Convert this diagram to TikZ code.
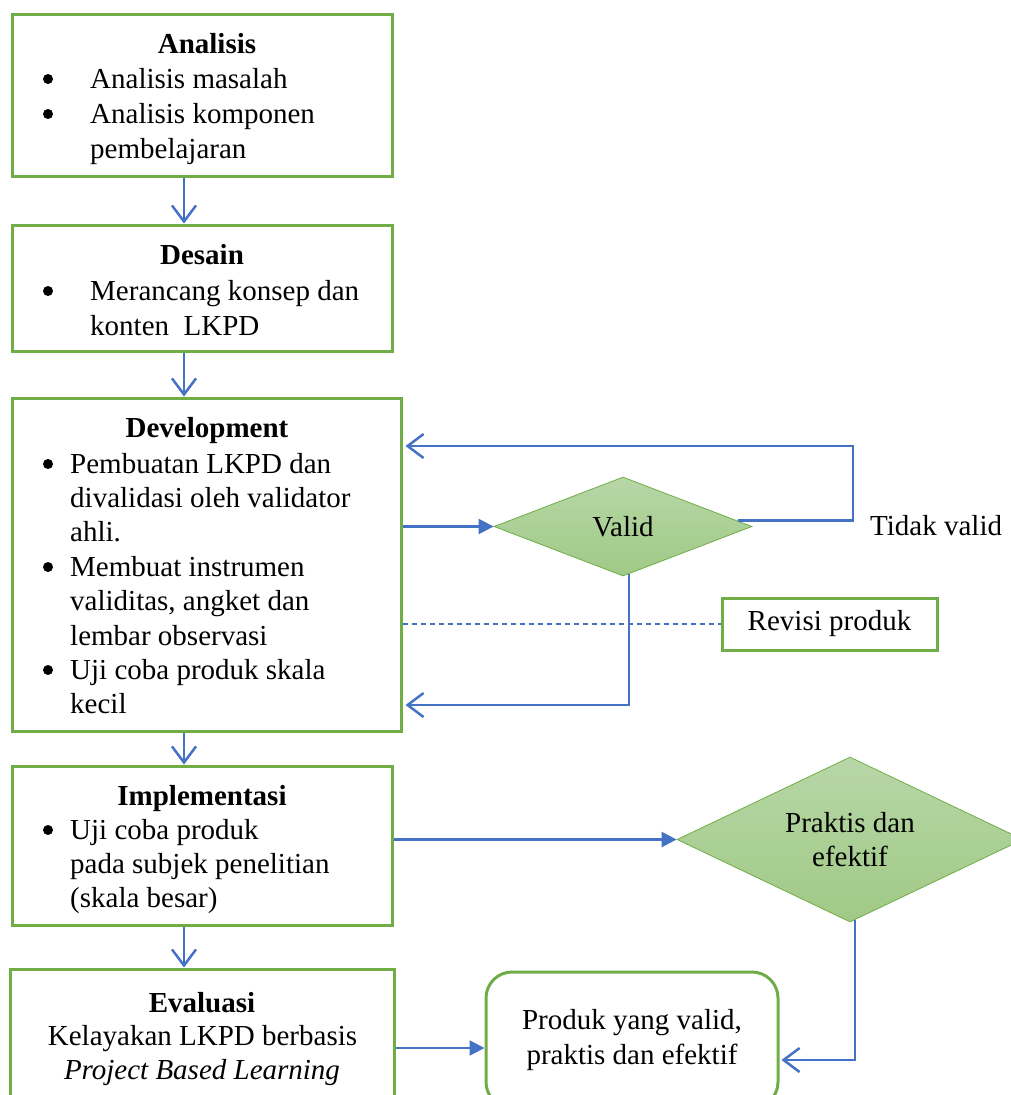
\documentclass[tikz,border=0pt]{standalone}
\usepackage{fontspec}
\setmainfont{Liberation Serif}
\usetikzlibrary{shapes.geometric,arrows.meta,calc}
\definecolor{bgreen}{RGB}{112,173,71}
\definecolor{ablue}{RGB}{68,114,196}
\definecolor{dtop}{RGB}{183,215,167}
\definecolor{dbot}{RGB}{160,201,134}
\begin{document}
\begin{tikzpicture}[x=1pt,y=-1pt,
  every node/.style={font=\fontsize{29}{34.5}\selectfont},
  box/.style={draw=bgreen, line width=3pt, rectangle, inner sep=0pt},
  dia/.style={diamond, aspect=2.1, draw=bgreen, line width=0.8pt, top color=dtop, bottom color=dbot, inner sep=0pt},
  txt/.style={inner sep=0pt, anchor=base west},
  ctxt/.style={inner sep=0pt, anchor=base},
  bul/.style={circle, fill=black, inner sep=0pt, minimum size=10pt},
  conn/.style={draw=ablue, line width=2.5pt},
  barb/.style={conn, -{Straight Barb[length=16pt,width=24pt]}},
  tri/.style={conn, -{Triangle[length=15pt,width=15pt]}}
]
\useasboundingbox (0,0) rectangle (1011,1095);
\clip (0,0) rectangle (1011,1095);

% boxes
\node[box, minimum width=380pt, minimum height=162pt] (ana) at (202,95) {};
\node[box, minimum width=380pt, minimum height=126pt] (des) at (202,288) {};
\node[box, minimum width=389pt, minimum height=333pt] (dev) at (206.5,564.5) {};
\node[box, minimum width=380pt, minimum height=159pt] (imp) at (202,845.5) {};
\node[box, minimum width=384pt, minimum height=140pt] (eva) at (202,1039) {};
\node[box, minimum width=215pt, minimum height=52pt] (rev) at (829.5,624) {Revisi produk};
\node[box, rounded corners=26pt, minimum width=292pt, minimum height=136pt, align=center] (pro) at (632,1040) {Produk yang valid,\\praktis dan efektif};

% diamonds
\node[dia, minimum width=258pt, minimum height=99pt] (val) at (623,526.5) {Valid};
\node[dia, minimum width=346pt, minimum height=165pt, align=center] (pra) at (850,839.5) {Praktis dan\\efektif};
\node[txt] (tv) at (870,535) {Tidak valid};

% Analisis
\node[ctxt] (t1) at (207,53) {\textbf{Analisis}};
\node[bul] (b11) at (48,79) {};
\node[txt] (l11) at (90,88) {Analisis masalah};
\node[bul] (b12) at (48,114) {};
\node[txt] (l12) at (90,123) {Analisis komponen};
\node[txt] (l13) at (90,158) {pembelajaran};

% Desain
\node[ctxt] (t2) at (202,264) {\textbf{Desain}};
\node[bul] (b21) at (48,291) {};
\node[txt] (l21) at (90,300) {Merancang konsep dan};
\node[txt] (l22) at (90,335) {konten~ LKPD};

% Development
\node[ctxt] (t3) at (207,437) {\textbf{Development}};
\node[bul] (b31) at (48,464) {};
\node[txt] (l31) at (70,473) {Pembuatan LKPD dan};
\node[txt] (l32) at (70,507) {divalidasi oleh validator};
\node[txt] (l33) at (70,541) {ahli.};
\node[bul] (b32) at (48,567) {};
\node[txt] (l34) at (70,576) {Membuat instrumen};
\node[txt] (l35) at (70,610) {validitas, angket dan};
\node[txt] (l36) at (70,645) {lembar observasi};
\node[bul] (b33) at (48,670) {};
\node[txt] (l37) at (70,679) {Uji coba produk skala};
\node[txt] (l38) at (70,713) {kecil};

% Implementasi
\node[ctxt] (t4) at (202,805) {\textbf{Implementasi}};
\node[bul] (b41) at (48,830) {};
\node[txt] (l41) at (70,839) {Uji coba produk};
\node[txt] (l42) at (70,873) {pada subjek penelitian};
\node[txt] (l43) at (70,907) {(skala besar)};

% Evaluasi
\node[ctxt] (t5) at (202,1012) {\textbf{Evaluasi}};
\node[ctxt] (l51) at (202.5,1045) {Kelayakan LKPD berbasis};
\node[ctxt] (l52) at (202,1079) {\textit{Project Based Learning}};

% connectors
\coordinate (ax) at (184,0);
\draw[barb] (ana.south -| ax) -- (des.north -| ax);
\draw[barb] (des.south -| ax) -- (dev.north -| ax);
\draw[barb] (dev.south -| ax) -- (imp.north -| ax);
\draw[barb] (imp.south -| ax) -- (eva.north -| ax);

\draw[tri] (dev.east |- val.west) -- (val.west);
\coordinate (tvc) at (853,446);
\draw[barb] ([shift={(-14,-6)}]val.east) -| (tvc) -- ($(dev.east |- tvc)+(3,0)$);
\coordinate (vb) at (629,705);
\draw[barb] ([shift={(6,-2)}]val.south) |- ($(dev.east |- vb)+(3,0)$);
\draw[conn, line width=1.2pt, dash pattern=on 5pt off 4pt] (dev.east |- rev.west) -- (rev.west);

\draw[tri] (imp.east |- pra.west) -- (pra.west);
\coordinate (pk) at (855,1060);
\draw[barb] ([shift={(5,-2.4)}]pra.south) |- ($(pro.east |- pk)+(2,0)$);
\coordinate (ep) at (0,1048);
\draw[tri] (eva.east |- ep) -- (pro.west |- ep);
\end{tikzpicture}
\end{document}
